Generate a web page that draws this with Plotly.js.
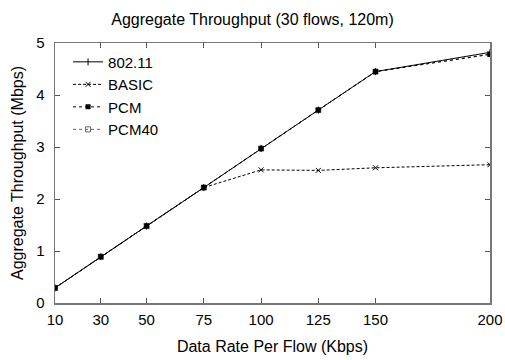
<!DOCTYPE html>
<html>
<head>
<meta charset="utf-8">
<script src="https://cdn.plot.ly/plotly-3.0.1.min.js"></script>
<style>html,body{margin:0;padding:0;background:#fff;}#chart{width:505px;height:360px;}</style>
</head>
<body>
<div id="chart"></div>
<script>
const rates = [10, 30, 50, 75, 100, 125, 150, 200];
const thr80211 = [0.29, 0.89, 1.48, 2.22, 2.97, 3.71, 4.45, 4.82];
const thrBasic = [0.29, 0.89, 1.48, 2.22, 2.56, 2.55, 2.60, 2.66];
const thrPcm   = [0.29, 0.89, 1.48, 2.22, 2.97, 3.71, 4.45, 4.78];
const thrPcm40 = [0.29, 0.89, 1.48, 2.22, 2.97, 3.71, 4.45, 4.79];
const xTicks = [10, 30, 50, 75, 100, 125, 150, 200];
const yTicks = [0, 1, 2, 3, 4, 5];

const traces = [
  {x: rates, y: thrPcm40, name: 'PCM40', legendrank: 4, mode: 'lines+markers',
   line: {color: '#666', width: 1, dash: 'dot'},
   marker: {symbol: 'square-open', size: 5, color: '#666', line: {width: 1}}},
  {x: rates, y: thr80211, name: '802.11', legendrank: 1, mode: 'lines+markers',
   line: {color: '#000', width: 1},
   marker: {symbol: 'line-ns', size: 5, color: '#000', line: {width: 1, color: '#000'}}},
  {x: rates, y: thrBasic, name: 'BASIC', legendrank: 2, mode: 'lines+markers',
   line: {color: '#000', width: 1, dash: '3px,2px'},
   marker: {symbol: 'x-thin', size: 5, color: '#000', line: {width: 1, color: '#000'}}},
  {x: rates, y: thrPcm, name: 'PCM', legendrank: 3, mode: 'lines+markers',
   line: {color: '#000', width: 1, dash: 'dot'},
   marker: {symbol: 'square', size: 5, color: '#000'}}
];

const ff = '"Liberation Sans", Arial, sans-serif';
const layout = {
  width: 505, height: 360,
  margin: {l: 55, r: 15, t: 43, b: 57},
  paper_bgcolor: '#fff', plot_bgcolor: '#fff',
  font: {family: ff, size: 15, color: '#000'},
  showlegend: true,
  title: {text: 'Aggregate Throughput (30 flows, 120m)', font: {family: ff, size: 16, color: '#000'},
          x: 0.5, xanchor: 'center', y: 0.945, yanchor: 'middle'},
  xaxis: {range: [10, 200], tickvals: xTicks, ticktext: xTicks.map(String),
          showgrid: false, zeroline: false, showline: true, linecolor: '#777', linewidth: 1.5,
          mirror: 'allticks', ticks: 'inside', ticklen: 5, tickcolor: '#555',
          tickfont: {family: ff, size: 15, color: '#000'}, ticklabelstandoff: 2,
          title: {text: 'Data Rate Per Flow (Kbps)', font: {family: ff, size: 16, color: '#000'}, standoff: 14}},
  yaxis: {range: [0, 5], tickvals: yTicks,
          showgrid: false, zeroline: false, showline: true, linecolor: '#777', linewidth: 1.5,
          mirror: 'allticks', ticks: 'inside', ticklen: 5, tickcolor: '#555',
          tickfont: {family: ff, size: 15, color: '#000'}, ticklabelstandoff: 6,
          title: {text: 'Aggregate Throughput (Mbps)', font: {family: ff, size: 16, color: '#000'}, standoff: 8}},
  legend: {x: 0.03, y: 0.99, xanchor: 'left', yanchor: 'top', bgcolor: 'rgba(0,0,0,0)',
           font: {family: ff, size: 15, color: '#000'}, tracegroupgap: 0}
};

Plotly.newPlot('chart', traces, layout, {displayModeBar: false, staticPlot: true});
</script>
</body>
</html>
